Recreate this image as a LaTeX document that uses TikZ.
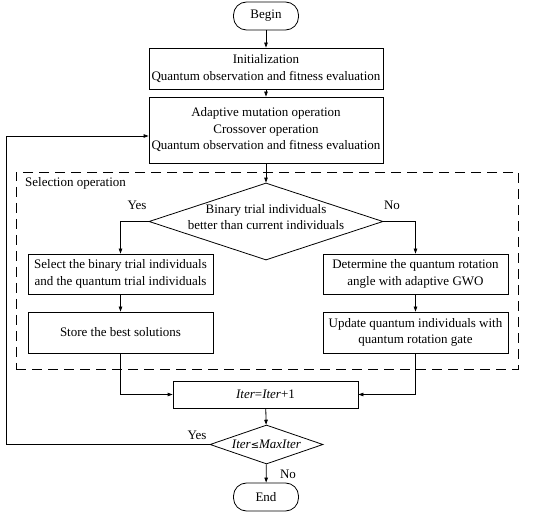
\documentclass[tikz,border=0pt]{standalone}
\usepackage{fontspec}
\setmainfont{Liberation Serif}
\usetikzlibrary{arrows.meta,shapes.geometric}
\begin{document}
\begin{tikzpicture}[x=1pt,y=-1pt,
  every node/.style={font=\fontsize{13}{16.5}\selectfont},
  box/.style={draw,line width=0.8pt,rectangle,inner sep=0pt,align=center},
  term/.style={draw,line width=0.8pt,rounded corners=13pt,inner sep=0pt,minimum width=65pt,minimum height=28pt},
  dia/.style={draw,line width=0.8pt,diamond,inner sep=0pt,align=center},
  conn/.style={line width=0.8pt,-{Triangle[length=5pt,width=3.5pt]}},
  line/.style={line width=0.8pt},
  lbl/.style={inner sep=0pt}]
\useasboundingbox (0,0) rectangle (550,516);
\node[term] (begin) at (266,16) {Begin};
\node[box,minimum width=234pt,minimum height=41pt] (init) at (266,68.5) {Initialization\\Quantum observation and fitness evaluation};
\node[box,minimum width=234pt,minimum height=66pt] (adapt) at (266,130) {Adaptive mutation operation\\Crossover operation\\Quantum observation and fitness evaluation};
\node[draw,line width=0.8pt,dash pattern=on 10pt off 6pt,minimum width=502pt,minimum height=197pt,inner sep=0pt] (sel) at (267,270.5) {};
\node[lbl,anchor=west] (seltxt) at (25,183) {Selection operation};
\node[dia,minimum width=234pt,minimum height=77pt,aspect=3] (d1) at (266,221.5) {};
\node[lbl,align=center] (d1txt) at (266,217) {Binary trial individuals\\better than current individuals};
\node[lbl] (yes1) at (137,205) {Yes};
\node[lbl] (no1) at (392,205) {No};
\node[box,minimum width=185pt,minimum height=40pt] (l1) at (120.5,274) {Select the binary trial individuals\\and the quantum trial individuals};
\node[box,minimum width=185pt,minimum height=41pt] (l2) at (120.5,332.5) {Store the best solutions};
\node[box,minimum width=185pt,minimum height=40pt] (r1) at (415.5,274) {Determine the quantum rotation\\angle with adaptive GWO};
\node[box,minimum width=185pt,minimum height=41pt] (r2) at (415.5,332.5) {Update quantum individuals with\\quantum rotation gate};
\node[box,minimum width=185pt,minimum height=27pt] (iter) at (265.5,394.5) {\textit{Iter}=\textit{Iter}+1};
\node[dia,minimum width=113pt,minimum height=39pt] (d2) at (266.5,444.5) {};
\node[lbl] (d2txt) at (266.5,444.5) {\textit{Iter}{\fontspec{DejaVu Sans}\fontsize{10}{12}\selectfont ≤}\textit{MaxIter}};
\node[lbl] (yes2) at (197,435) {Yes};
\node[lbl] (no2) at (288,474) {No};
\node[term] (end) at (266,497) {End};
\coordinate (lp) at (6,444.5);
\coordinate (lq) at (6,136);
\draw[conn] (begin) -- (init);
\draw[conn] (init) -- (adapt);
\draw[conn] (adapt) -- (d1);
\draw[conn] (d1.west) -| (l1.north);
\draw[conn] (d1.east) -| (r1.north);
\draw[conn] (l1) -- (l2);
\draw[conn] (r1) -- (r2);
\draw[conn] (l2.south) |- (iter.west);
\draw[conn] (r2.south) |- (iter.east);
\draw[conn] (iter) -- (d2);
\draw[conn] (d2) -- (end);
\draw[line] (d2.west) -- (lp) -- (lq);
\draw[conn] (lq) -- (lq -| adapt.west);
\end{tikzpicture}
\end{document}
